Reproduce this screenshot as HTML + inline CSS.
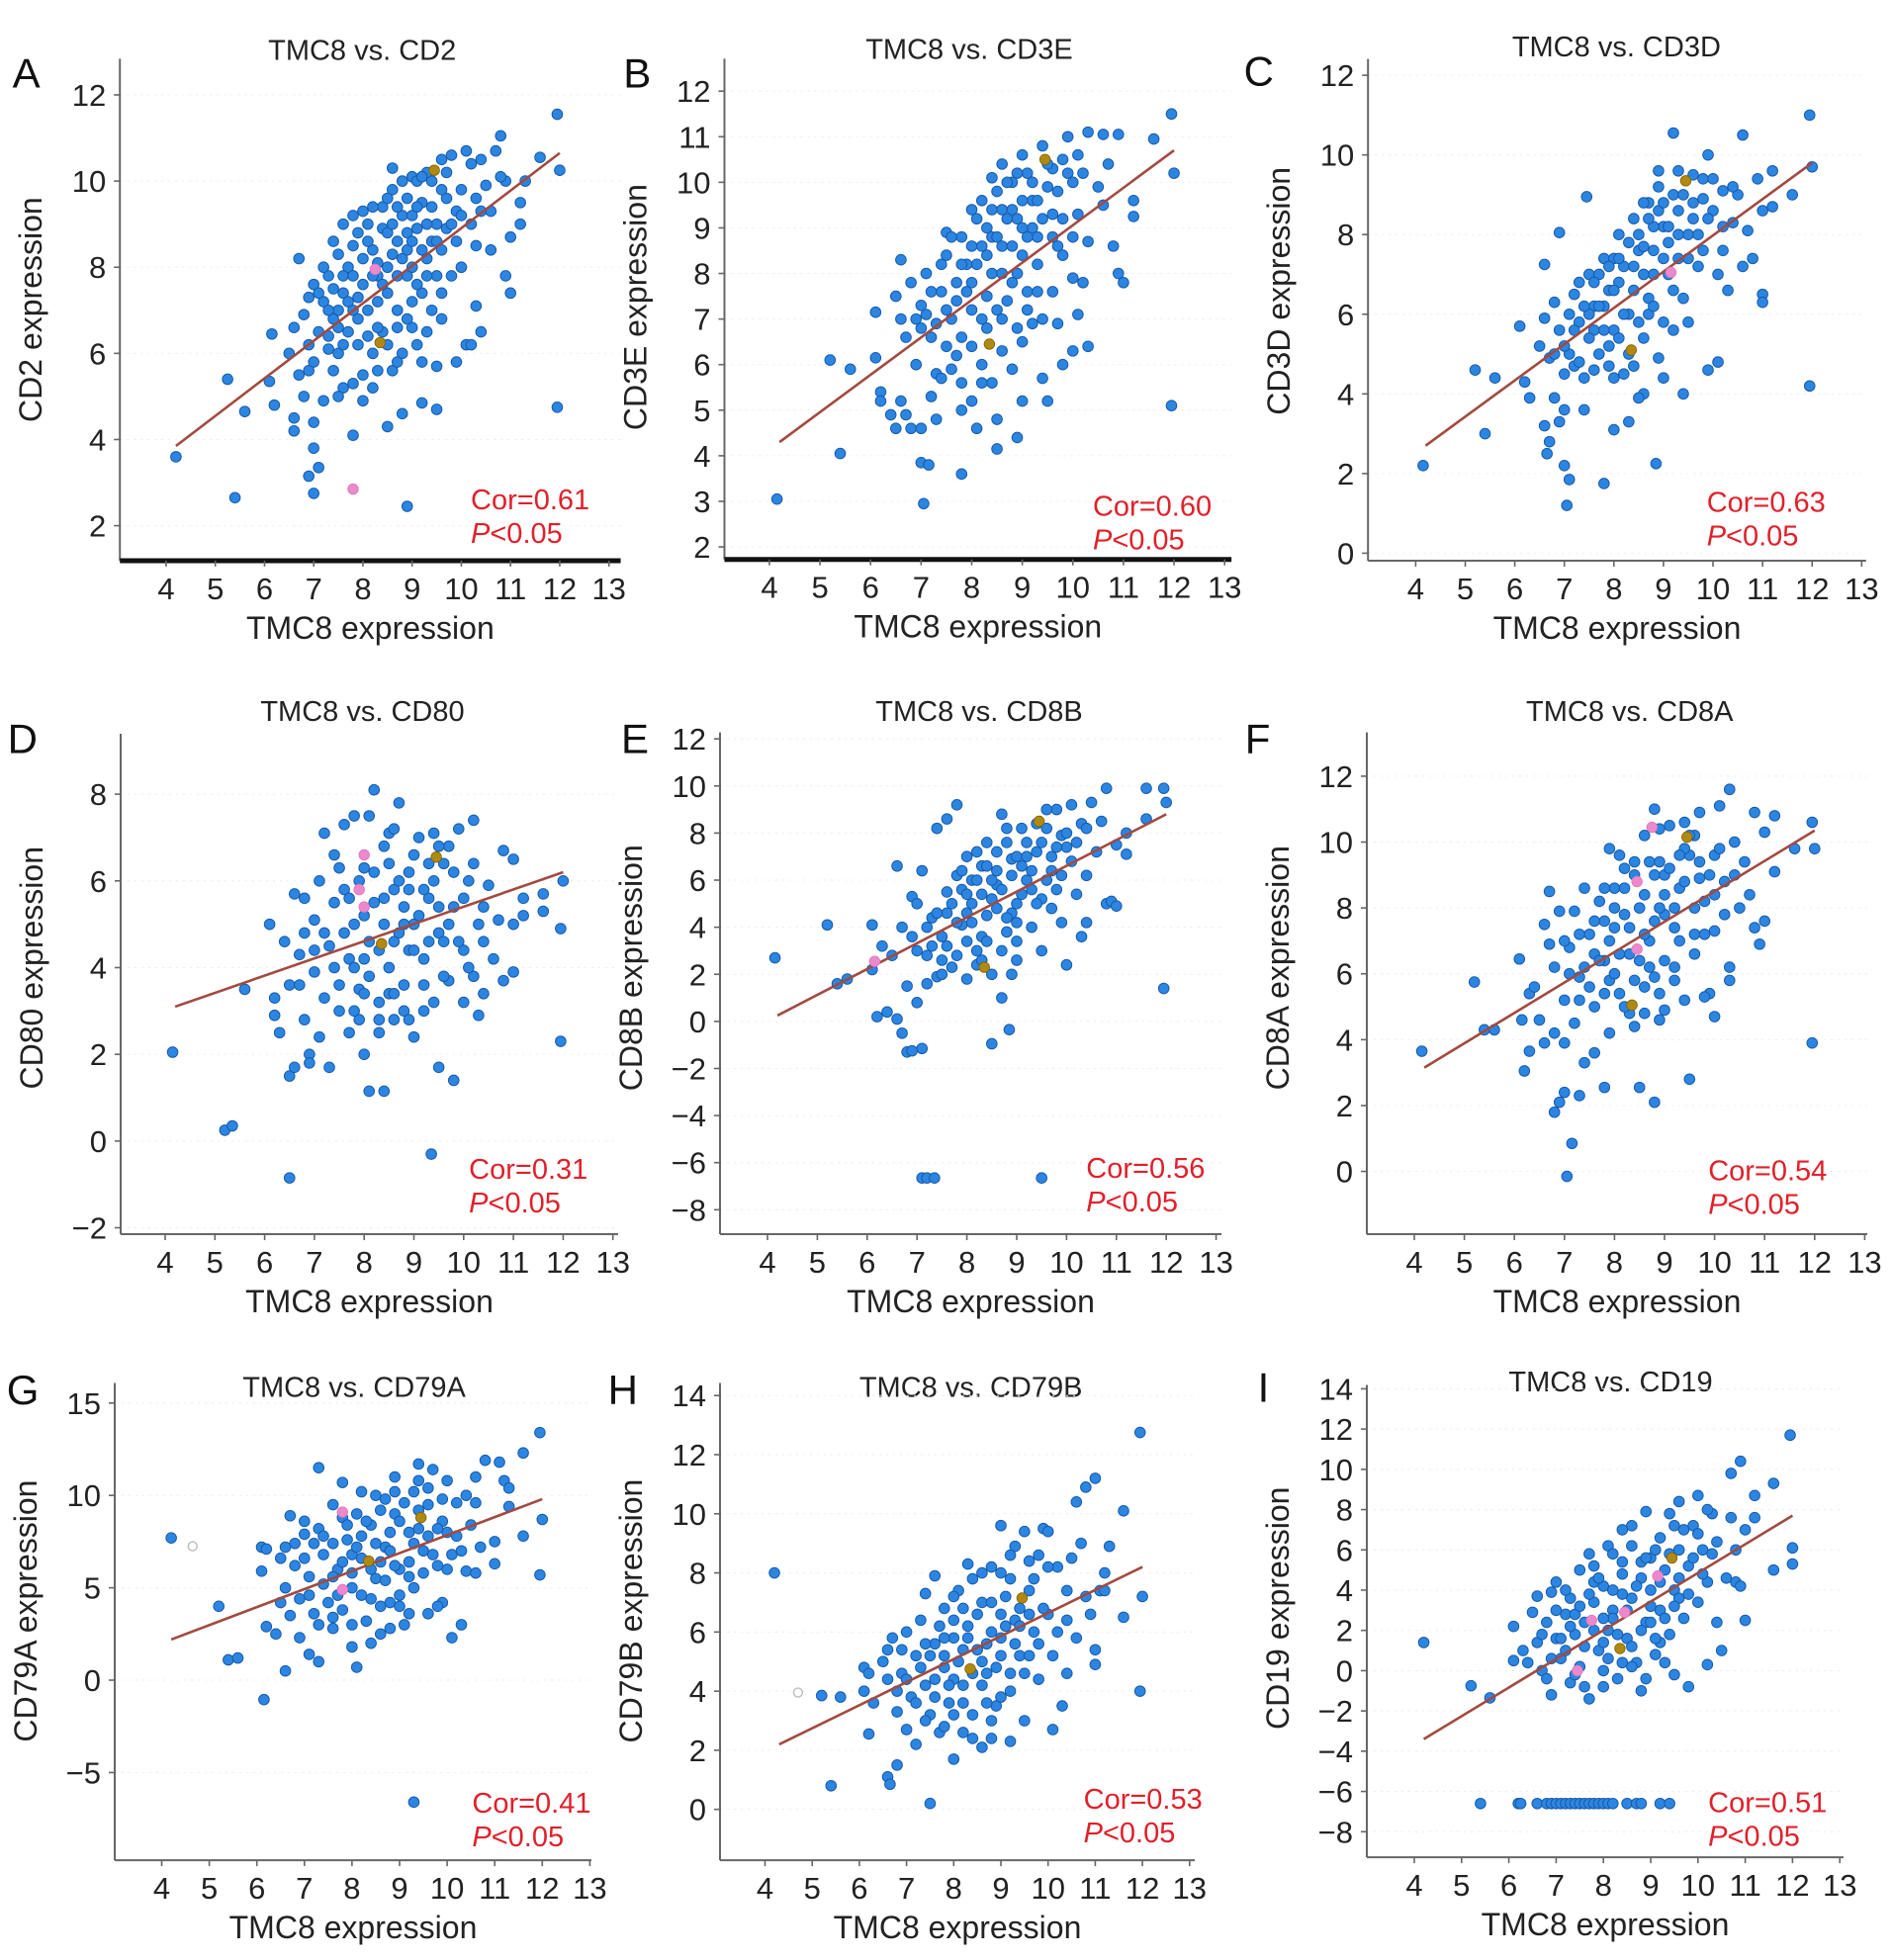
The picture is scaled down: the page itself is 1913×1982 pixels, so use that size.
<!DOCTYPE html>
<html><head><meta charset="utf-8"><title>TMC8 correlations</title>
<style>
html,body{margin:0;padding:0;background:#fff;}
svg{display:block;font-family:"Liberation Sans",Arial,sans-serif;}
</style></head>
<body>
<svg id="fig" width="1913" height="1982" viewBox="0 0 1913 1982" xmlns="http://www.w3.org/2000/svg"></svg>
<script>
// ---------- DATA ----------
const genes = ["CD2","CD3E","CD3D","CD80","CD8B","CD8A","CD79A","CD79B","CD19"];
const corValues = ["0.61","0.60","0.63","0.31","0.56","0.54","0.41","0.53","0.51"];
const yTicksA = [2,4,6,8,10,12];
const yTicksB = [2,3,4,5,6,7,8,9,10,11,12];
const yTicksC = [0,2,4,6,8,10,12];
const yTicksD = [-2,0,2,4,6,8];
const yTicksE = [-8,-6,-4,-2,0,2,4,6,8,10,12];
const yTicksF = [0,2,4,6,8,10,12];
const yTicksG = [-5,0,5,10,15];
const yTicksH = [0,2,4,6,8,10,12,14];
const yTicksI = [-8,-6,-4,-2,0,2,4,6,8,10,12,14];
const xTicks = [4,5,6,7,8,9,10,11,12,13];
const fitA=[4.2,3.85,12,10.65], fitB=[4.2,4.3,12,10.7], fitC=[4.2,2.7,12,9.8];
const fitD=[4.2,3.1,12,6.2], fitE=[4.2,0.25,12,8.8], fitF=[4.2,3.15,12,10.35];
const fitG=[4.2,2.2,12,9.8], fitH=[4.3,2.2,12,8.2], fitI=[4.2,-3.4,12,7.7];

const ptsA=[[4.2,3.6],[5.4,2.65],[5.25,5.4],[5.6,4.65],[6.1,5.35],[6.15,6.45],[6.2,4.8],[6.6,4.5],[6.6,4.2],[6.7,8.2],[6.9,3.15],[7.0,2.75],[7.0,3.8],[7.1,3.35],[7.8,4.1],[8.9,2.45],[11.95,4.75],[11.95,11.55],[12,10.25],[11.6,10.55],[10.8,11.05],[9.5,4.7],[9.2,4.85],
[6.8,6.9],[6.9,7.3],[7.0,7.6],[7.1,6.5],[7.2,7.2],[7.3,7.8],[7.4,6.8],[7.5,8.3],[7.6,7.4],[7.7,8.0],[7.8,7.0],[7.9,8.8],[8.0,7.6],[8.1,9.0],[8.2,8.4],[8.3,7.2],[8.4,9.4],[8.5,8.0],[8.6,9.8],[8.7,8.6],[8.8,9.2],[8.9,7.8],[9.0,10.1],[9.1,8.9],[9.2,9.5],[9.3,8.2],[9.4,10.0],[9.5,9.0],[9.6,8.4],[9.7,9.6],[9.8,10.6],[10.0,9.8],[10.1,10.7],[10.3,9.6],[10.4,10.5],[10.6,9.3],[10.7,10.7],[10.9,10.0],[11.0,8.7],[11.2,9.5],[11.2,9.0],[11.0,7.4],[10.9,7.8],[10.6,8.4],[10.3,8.5],[10.0,8.0],[9.8,7.8],[9.6,6.8],[9.4,7.0],[9.2,7.4],[9.0,6.6],[8.8,6.0],[8.6,5.6],[8.4,6.5],[8.2,6.0],[8.0,5.5],[7.8,5.3],[7.6,5.2],[7.4,5.6],[7.2,4.9],[7.0,4.4],[6.8,5.0],[6.7,5.5],[6.5,6.0],[6.6,6.6],[7.0,5.8],[7.3,6.1],[7.5,6.0],[7.7,6.5],[7.9,6.8],[8.1,7.0],[8.3,7.8],[8.5,7.4],[8.7,7.0],[8.9,8.4],[9.1,7.6],[9.3,6.5],[9.5,7.8],[9.7,8.9],[9.9,9.3],[10.1,6.2],[10.2,6.2],[10.3,7.1],[10.4,6.5],[9.9,5.8],[9.5,5.7],[9.2,5.8],[8.8,4.6],[8.5,4.3],[8.0,4.9],[8.6,10.3],[8.0,9.3],[7.6,9.0],[7.8,8.5],[8.4,8.9],[8.8,10.0],[9.0,9.2],[9.3,10.2],[9.6,10.5],[7.4,7.5],[7.6,7.8],[7.9,7.3],[8.2,7.8],[8.6,8.3],[8.9,8.8],[9.1,9.4],[9.4,8.6],[8.3,6.6],[8.7,6.6],[9.0,7.2],[7.1,7.4],[7.3,6.4],[6.9,6.2],[10.5,9.9],[10.8,10.1],[11.3,10.0],[10.2,9.0],
[7.2,8.0],[7.4,8.6],[7.5,7.0],[7.7,7.2],[7.8,7.8],[8.0,8.2],[8.1,8.6],[8.2,9.4],[8.3,8.1],[8.4,7.6],[8.5,8.8],[8.5,9.6],[8.6,9.0],[8.7,7.8],[8.8,8.2],[8.9,9.6],[9.0,8.0],[9.0,8.6],[9.1,10.0],[9.2,8.4],[9.3,9.0],[9.4,9.4],[9.5,8.6],[9.6,9.8],[9.7,10.2],[9.8,9.0],[9.9,8.6],[10.0,9.2],[10.2,10.4],[10.4,9.3],[7.3,7.0],[7.5,6.6],[7.6,6.2],[7.9,6.2],[8.1,6.4],[8.3,5.6],[8.5,6.2],[8.7,5.8],[8.9,6.8],[9.1,6.2],[9.3,7.8],[9.6,7.4],[7.8,9.2],[8.7,9.4],[9.2,10.1],[8.2,5.2],[7.5,5.0],[6.9,5.6]];
const pinkA=[[8.25,7.95],[7.8,2.85]], goldA=[[9.45,10.25],[8.35,6.25]];

const ptsB=[[4.15,3.05],[5.2,6.1],[5.4,4.05],[5.6,5.9],[6.1,6.15],[6.1,7.15],[7.0,3.85],[7.15,3.8],[7.05,2.95],[7.8,3.6],[8.5,4.15],[11.95,5.1],[11.95,11.5],[12,10.2],[11.6,10.95],[11.2,9.6],[11.2,9.25],[10.9,11.05],[6.6,8.3],
[6.2,5.4],[6.2,5.2],[6.4,4.9],[6.5,4.6],[6.6,5.2],[6.7,4.9],[6.8,4.6],[6.5,7.5],[6.6,7.0],[6.7,6.6],[6.8,7.8],[6.9,6.0],[7.0,7.3],[7.1,8.0],[7.2,6.6],[7.3,5.8],[7.4,7.6],[7.5,8.4],[7.6,7.0],[7.7,6.2],[7.8,8.8],[7.9,7.6],[8.0,9.4],[8.1,8.2],[8.2,7.0],[8.3,9.0],[8.4,8.0],[8.5,9.8],[8.6,8.6],[8.7,7.4],[8.8,10.0],[8.9,9.2],[9.0,8.4],[9.1,10.2],[9.2,9.6],[9.3,8.8],[9.4,10.8],[9.5,9.9],[9.6,9.3],[9.7,8.6],[9.8,10.5],[9.9,11.0],[10.0,10.0],[10.1,9.3],[10.2,10.2],[10.3,11.1],[10.5,9.9],[10.6,11.05],[10.7,10.4],[10.8,8.6],[10.9,8.0],[11.0,7.8],[10.6,9.5],[10.3,8.7],[10.2,7.8],[10.0,7.9],[9.8,8.4],[9.6,7.6],[9.4,7.0],[9.2,6.9],[9.0,6.5],[8.8,5.9],[8.6,6.3],[8.4,5.6],[8.2,6.0],[8.0,5.2],[7.8,5.6],[7.6,5.9],[7.4,5.7],[7.2,5.3],[7.0,4.6],[7.3,4.8],[7.8,5.0],[8.1,4.6],[8.5,4.8],[8.9,4.4],[9.0,5.2],[9.5,5.2],[9.4,5.7],[9.8,6.0],[10.0,6.3],[10.3,6.4],[10.1,7.1],[9.7,6.9],[8.0,7.2],[8.3,7.5],[8.6,8.0],[8.9,8.0],[9.1,8.8],[9.3,9.6],[8.7,9.2],[8.2,8.6],[7.7,7.8],[7.5,7.2],[7.9,8.2],[8.4,8.8],[8.8,8.6],[9.2,9.0],[9.6,10.3],[8.6,10.4],[7.5,8.9],
[7.4,8.2],[7.6,8.8],[7.7,7.4],[7.8,8.2],[8.0,8.6],[8.0,7.8],[8.1,9.2],[8.2,9.6],[8.3,8.4],[8.4,9.4],[8.5,8.8],[8.5,7.2],[8.6,9.4],[8.7,10.0],[8.8,9.4],[8.8,7.8],[8.9,10.2],[9.0,9.0],[9.0,9.6],[9.1,7.6],[9.2,10.0],[9.3,8.2],[9.4,9.2],[9.5,10.4],[9.6,8.8],[9.7,9.8],[9.8,9.2],[9.9,10.2],[10.0,8.8],[10.1,10.6],[7.2,7.6],[7.3,6.9],[7.5,6.4],[7.8,6.6],[8.0,6.4],[8.3,6.8],[8.6,7.0],[8.9,6.8],[9.1,7.2],[9.3,7.6],[7.0,6.8],[6.9,7.0],[7.1,7.1],[8.4,10.1],[9.0,10.6],[8.2,5.6]];
const pinkB=[], goldB=[[9.45,10.5],[8.35,6.45]];

const ptsC=[[4.15,2.2],[5.2,4.6],[5.4,3.0],[5.6,4.4],[6.1,5.7],[6.2,4.3],[6.3,3.9],[6.6,7.25],[6.9,8.05],[7.05,1.2],[7.1,1.85],[7.0,2.2],[7.8,1.75],[8.85,2.25],[11.95,11.0],[12,9.7],[11.95,4.2],[10.6,10.5],[9.2,10.55],[7.45,8.95],[11.6,9.0],
[6.5,5.2],[6.6,5.9],[6.7,4.9],[6.8,6.3],[6.9,5.6],[6.6,3.2],[6.7,2.8],[6.65,2.5],[6.8,3.9],[6.9,3.3],[7.0,3.6],[7.0,4.5],[7.1,5.0],[7.2,6.5],[7.3,5.8],[7.4,3.6],[7.4,4.4],[7.5,7.0],[7.6,6.2],[7.7,5.0],[7.8,7.4],[7.9,6.6],[8.0,5.6],[8.1,8.0],[8.2,7.2],[8.3,6.0],[8.4,8.4],[8.5,7.6],[8.6,5.4],[8.7,8.8],[8.8,7.0],[8.9,9.6],[9.0,8.2],[9.1,7.8],[9.2,9.0],[9.3,8.6],[9.4,6.4],[9.5,8.0],[9.6,9.5],[9.7,7.2],[9.8,9.4],[9.9,10.0],[10.0,8.6],[10.1,7.0],[10.2,9.1],[10.3,6.6],[10.4,8.3],[10.5,9.0],[10.6,7.2],[10.7,8.1],[10.8,7.4],[10.9,9.4],[11.0,6.5],[11.0,6.3],[11.2,8.7],[11.2,9.6],[11.0,8.6],[9.5,5.8],[9.2,5.6],[9.0,4.4],[8.9,4.9],[8.6,4.0],[8.5,3.9],[8.3,3.3],[8.0,3.1],[8.2,4.5],[8.4,4.7],[7.9,4.7],[7.6,5.6],[7.3,6.8],[7.5,6.0],[7.8,6.2],[8.1,6.8],[8.4,7.2],[8.6,7.7],[8.8,8.2],[9.1,7.0],[9.3,7.4],[9.6,8.4],[9.8,8.9],[10.2,8.2],[8.7,6.4],[8.0,7.4],[7.7,7.0],[7.2,4.7],[9.4,4.0],[9.9,4.6],[10.1,4.8],[8.9,9.2],[9.3,9.6],
[7.2,5.6],[7.4,6.2],[7.5,5.4],[7.6,6.8],[7.7,6.2],[7.8,5.6],[7.9,7.2],[8.0,6.6],[8.1,7.4],[8.2,6.0],[8.3,7.8],[8.4,6.6],[8.5,8.0],[8.6,7.0],[8.7,8.4],[8.7,6.0],[8.8,7.6],[8.9,8.6],[9.0,7.4],[9.0,8.8],[9.1,8.2],[9.2,6.6],[9.3,8.0],[9.4,9.0],[9.5,7.4],[9.6,8.8],[9.7,8.0],[9.8,7.6],[9.9,8.4],[10.0,9.4],[10.2,7.6],[10.4,9.2],[7.0,5.2],[7.3,4.8],[7.6,4.6],[7.9,5.2],[8.1,5.4],[8.3,5.0],[8.5,5.8],[8.8,6.2],[9.0,5.8],[8.0,4.4],[7.1,6.0],[6.8,5.0],[8.6,8.8]];
const pinkC=[[9.15,7.05]], goldC=[[9.45,9.35],[8.35,5.1]];

const ptsD=[[4.15,2.05],[5.2,0.25],[5.35,0.35],[5.6,3.5],[6.5,-0.85],[9.35,-0.3],[11.95,2.3],[11.95,4.9],[12,6.0],[9.8,1.4],[8.1,1.15],[8.4,1.15],[6.5,1.5],[8.2,8.1],
[6.1,5.0],[6.2,2.9],[6.2,3.3],[6.3,2.5],[6.4,4.6],[6.5,3.6],[6.6,5.7],[6.6,1.7],[6.7,4.3],[6.8,5.6],[6.8,2.8],[6.9,2.0],[7.0,3.9],[7.0,5.1],[7.1,2.4],[7.1,6.0],[7.2,7.1],[7.2,3.3],[7.3,4.5],[7.4,5.5],[7.5,3.0],[7.5,6.3],[7.6,7.3],[7.7,4.2],[7.7,2.5],[7.8,5.0],[7.8,7.5],[7.9,3.5],[8.0,6.3],[8.0,2.0],[8.1,4.6],[8.1,7.5],[8.2,5.5],[8.3,3.2],[8.4,6.8],[8.5,4.0],[8.5,7.1],[8.6,5.8],[8.6,2.8],[8.7,7.8],[8.7,4.8],[8.8,3.6],[8.9,6.2],[9.0,5.0],[9.0,2.4],[9.1,7.0],[9.2,4.2],[9.3,5.6],[9.4,3.2],[9.4,7.1],[9.5,1.7],[9.5,4.8],[9.6,6.4],[9.7,3.7],[9.8,5.4],[9.9,7.2],[10.0,4.4],[10.0,3.2],[10.1,6.0],[10.2,7.4],[10.3,5.0],[10.3,2.9],[10.4,3.4],[10.5,5.9],[10.6,4.2],[10.7,5.1],[10.8,6.7],[10.8,3.7],[11.0,6.5],[11.0,3.9],[11.0,5.0],[11.2,5.6],[11.2,5.2],[11.6,5.7],[11.6,5.3],[10.2,3.8],[9.2,3.0],[8.3,2.5],[7.9,2.8],[7.3,1.7],[6.9,1.8],[7.6,5.8],[8.4,5.0],[8.9,4.4],[9.6,4.6],[8.0,4.2],[8.8,5.4],[9.3,6.4],[7.4,4.0],[10.4,5.4],[9.7,6.8],
[7.6,4.8],[7.7,5.6],[7.8,4.0],[7.9,6.0],[8.0,5.2],[8.1,3.8],[8.2,6.2],[8.3,4.4],[8.4,5.6],[8.5,6.4],[8.5,3.4],[8.6,4.6],[8.7,6.0],[8.8,5.0],[8.8,3.0],[8.9,5.8],[9.0,4.4],[9.0,6.6],[9.1,5.2],[9.2,3.6],[9.2,5.8],[9.3,4.6],[9.4,6.0],[9.5,5.4],[9.6,3.8],[9.7,5.0],[9.8,6.2],[9.9,4.6],[10.0,5.6],[10.1,4.0],[10.2,6.4],[10.4,4.6],[7.4,6.6],[7.5,3.6],[7.2,4.8],[7.0,4.4],[6.8,4.8],[6.7,3.6],[7.8,3.0],[8.3,2.8],[8.6,3.4],[8.9,2.8],[9.5,6.8],[8.6,7.2],[8.0,3.4]];
const pinkD=[[8.0,6.6],[7.9,5.8],[8.0,5.4]], goldD=[[9.45,6.55],[8.35,4.55]];

const ptsE=[[4.15,2.7],[5.2,4.1],[5.4,1.6],[5.6,1.8],[6.1,4.1],[6.1,2.2],[6.2,0.2],[7.1,-6.65],[7.2,-6.65],[7.35,-6.65],[9.5,-6.65],[11.95,1.4],[11.95,9.9],[12,9.3],[11.6,9.9],[11.6,8.6],[6.8,-1.3],[6.9,-1.25],[7.1,-1.15],[8.5,-0.95],[8.85,-0.35],[11.2,7.1],[10.8,9.9],
[6.3,3.2],[6.4,0.4],[6.5,2.8],[6.6,0.1],[6.6,6.6],[6.7,-0.5],[6.7,4.0],[6.8,1.5],[6.9,5.3],[7.0,0.8],[7.0,3.0],[7.1,6.4],[7.2,1.6],[7.3,4.4],[7.4,8.2],[7.4,1.9],[7.5,3.6],[7.6,5.5],[7.6,8.6],[7.7,2.3],[7.8,6.2],[7.8,9.2],[7.9,4.1],[8.0,1.8],[8.0,7.0],[8.1,5.0],[8.2,3.0],[8.3,6.6],[8.4,4.5],[8.4,7.6],[8.5,2.0],[8.6,5.8],[8.7,8.8],[8.7,1.0],[8.8,3.8],[8.9,6.9],[9.0,5.0],[9.0,2.6],[9.1,8.2],[9.2,6.0],[9.3,4.0],[9.4,7.2],[9.5,5.2],[9.5,3.0],[9.6,8.2],[9.7,6.4],[9.8,9.0],[9.9,4.2],[10.0,7.4],[10.0,2.4],[10.1,9.2],[10.2,5.4],[10.3,8.4],[10.3,3.6],[10.4,6.2],[10.5,9.3],[10.6,7.2],[10.7,8.5],[10.8,5.0],[10.9,5.1],[11.0,4.9],[11.0,7.5],[11.2,8.0],[10.4,4.2],[9.8,5.6],[9.2,7.6],[8.6,6.4],[8.0,4.6],[7.6,3.2],[7.2,2.8],[8.3,3.6],[8.9,4.6],[9.3,5.6],[9.7,7.0],[8.1,6.0],[7.9,5.6],[8.5,5.2],[8.8,7.6],[9.1,6.6],[8.2,2.4],[7.5,2.0],[8.9,2.0],[9.4,8.4],[9.9,7.9],
[7.6,4.6],[7.7,5.0],[7.8,4.2],[7.9,6.4],[8.0,5.4],[8.1,4.2],[8.2,6.0],[8.3,5.4],[8.4,3.4],[8.5,6.0],[8.6,4.8],[8.6,7.2],[8.7,5.6],[8.8,4.4],[8.9,6.2],[9.0,7.0],[9.0,4.2],[9.1,5.4],[9.2,7.0],[9.3,6.4],[9.4,5.0],[9.5,7.6],[9.6,6.0],[9.7,4.8],[9.8,7.4],[9.9,6.2],[10.0,8.0],[10.1,6.8],[10.2,7.6],[10.4,8.2],[7.4,4.6],[7.3,3.2],[7.5,2.6],[7.8,2.8],[8.0,3.4],[8.3,2.6],[8.7,3.0],[9.0,3.4],[7.2,4.0],[7.0,5.0],[6.9,3.6],[8.2,7.2],[8.8,8.2],[9.6,9.0],[8.4,6.6]];
const pinkE=[[6.15,2.55]], goldE=[[9.45,8.5],[8.35,2.3]];

const ptsF=[[4.15,3.65],[5.2,5.75],[5.4,4.3],[5.6,4.3],[6.1,6.45],[6.15,4.6],[6.2,3.05],[6.3,3.65],[6.8,1.8],[6.9,2.1],[7.05,-0.15],[7.15,0.85],[7.0,2.4],[7.3,2.3],[7.8,2.55],[8.5,2.55],[8.8,2.1],[9.5,2.8],[11.95,3.9],[11.95,10.6],[12,9.8],[10.3,11.6],[11.6,9.8],
[6.3,5.4],[6.4,5.6],[6.5,4.6],[6.6,3.9],[6.6,7.5],[6.7,6.9],[6.7,8.5],[6.8,6.2],[6.8,4.2],[6.9,7.9],[7.0,5.2],[7.0,3.9],[7.1,6.8],[7.2,7.9],[7.2,4.5],[7.3,5.9],[7.4,8.6],[7.4,3.3],[7.5,7.2],[7.6,5.0],[7.6,3.6],[7.7,8.2],[7.8,6.4],[7.9,4.2],[7.9,9.8],[8.0,7.4],[8.1,5.4],[8.2,9.2],[8.3,6.6],[8.4,4.4],[8.5,8.0],[8.6,10.2],[8.6,5.6],[8.7,7.0],[8.8,11.0],[8.8,9.0],[8.9,4.6],[9.0,7.8],[9.1,10.5],[9.2,6.2],[9.3,8.6],[9.4,5.2],[9.5,9.6],[9.6,7.2],[9.7,10.9],[9.8,8.2],[9.9,5.4],[10.0,9.6],[10.0,7.3],[10.1,11.1],[10.2,8.8],[10.3,6.2],[10.4,10.0],[10.5,8.0],[10.6,9.4],[10.7,8.4],[10.8,7.4],[10.9,6.9],[11.0,10.3],[11.0,7.6],[11.2,9.1],[11.2,10.8],[10.8,10.9],[10.3,5.8],[10.0,4.7],[9.8,5.3],[9.6,6.6],[9.0,4.9],[8.8,5.9],[8.3,4.8],[7.9,5.8],[7.6,6.6],[7.3,7.2],[8.2,7.8],[8.6,7.2],[9.0,9.0],[9.4,9.8],[9.7,8.9],[8.4,9.4],[8.0,8.6],[8.9,8.0],[9.2,7.4],[7.8,7.6],[9.6,10.2],
[7.6,7.6],[7.7,6.4],[7.8,8.6],[7.9,7.0],[8.0,8.0],[8.1,6.6],[8.2,8.6],[8.3,7.4],[8.4,9.0],[8.5,6.4],[8.6,8.4],[8.7,9.4],[8.7,6.2],[8.8,7.6],[8.9,9.4],[9.0,8.4],[9.0,6.4],[9.1,9.2],[9.2,8.0],[9.3,9.6],[9.3,7.0],[9.4,8.8],[9.5,10.2],[9.6,8.0],[9.7,9.4],[9.8,7.2],[9.9,9.0],[10.0,8.4],[10.1,9.8],[10.2,7.8],[10.4,9.0],[7.4,6.2],[7.3,5.2],[7.5,5.6],[7.8,5.4],[8.0,6.0],[8.2,5.0],[8.4,5.8],[8.6,4.8],[8.9,5.4],[9.2,5.8],[7.1,6.0],[7.0,7.0],[8.1,9.6],[8.9,10.4],[9.4,10.6]];
const pinkF=[[8.75,10.45],[8.45,8.8],[8.45,6.75]], goldF=[[9.45,10.15],[8.35,5.05]];

const ptsG=[[4.2,7.7],[5.2,4.0],[5.4,1.1],[5.6,1.2],[6.15,-1.05],[6.6,0.5],[9.3,-6.6],[11.95,13.4],[11.6,12.3],[12,8.7],[11.95,5.7],[11.6,7.8],[7.3,11.5],
[6.1,7.2],[6.2,7.1],[6.1,5.9],[6.2,2.9],[6.4,2.5],[6.5,6.6],[6.6,5.0],[6.7,3.5],[6.7,8.9],[6.8,6.2],[6.9,2.3],[6.9,4.4],[7.0,7.9],[7.1,5.6],[7.1,1.4],[7.2,3.6],[7.3,8.2],[7.3,1.0],[7.4,6.8],[7.5,4.2],[7.6,9.5],[7.6,2.8],[7.7,6.0],[7.8,10.7],[7.8,3.8],[7.9,7.6],[8.0,5.0],[8.0,1.8],[8.1,9.0],[8.1,0.7],[8.2,6.6],[8.3,3.2],[8.4,8.4],[8.5,5.5],[8.5,10.0],[8.6,2.5],[8.7,7.2],[8.8,4.2],[8.9,11.0],[8.9,9.0],[9.0,6.0],[9.1,3.0],[9.2,8.0],[9.3,10.2],[9.3,5.0],[9.4,11.7],[9.5,7.0],[9.6,3.6],[9.6,9.5],[9.7,11.4],[9.8,6.2],[9.9,4.2],[9.9,8.6],[10.0,10.8],[10.1,2.3],[10.1,6.8],[10.2,9.6],[10.3,3.0],[10.4,5.9],[10.5,8.4],[10.6,11.0],[10.7,7.2],[10.8,11.9],[11.0,6.3],[11.0,7.5],[11.1,11.8],[11.2,10.8],[11.3,9.4],[11.3,10.4],[10.6,5.8],[10.3,7.0],[9.8,4.0],[9.0,4.6],[8.6,6.4],[8.2,7.8],[7.8,8.8],[7.4,5.2],[7.0,6.6],[7.6,5.6],[8.4,4.4],[8.8,8.0],[9.2,6.4],[9.6,7.8],[10.0,8.0],[8.0,6.8],[8.7,9.8],[9.4,9.2],[7.2,7.4],
[7.6,7.4],[7.7,4.6],[7.8,6.4],[7.9,8.4],[8.0,5.8],[8.1,7.2],[8.2,4.6],[8.3,8.6],[8.4,6.0],[8.5,7.4],[8.6,9.2],[8.6,4.0],[8.7,5.4],[8.8,7.0],[8.9,6.2],[9.0,8.6],[9.0,4.0],[9.1,9.6],[9.2,5.6],[9.3,7.4],[9.4,8.2],[9.5,5.8],[9.6,10.4],[9.7,6.8],[9.8,8.2],[9.9,9.8],[10.0,6.0],[10.2,7.8],[10.4,10.0],[7.4,7.8],[7.3,3.0],[7.1,4.6],[7.0,8.6],[7.6,3.4],[8.0,3.0],[8.4,2.0],[8.8,2.8],[9.2,3.6],[6.8,7.4],[6.5,4.2],[6.6,7.2],[8.2,10.2],[8.9,10.2],[9.4,10.8],[10.6,9.6]];
const openG=[[4.65,7.25]], pinkG=[[7.8,9.1],[7.8,4.9]], goldG=[[9.45,8.8],[8.35,6.45]];

const ptsH=[[4.2,8.0],[5.2,3.85],[5.4,0.8],[5.6,3.8],[6.2,2.55],[6.6,1.1],[6.65,0.85],[7.5,0.2],[11.95,12.75],[12,7.2],[11.95,4.0],[11.6,10.1],[11.6,6.5],[11.0,11.2],[10.8,10.9],[10.6,10.4],
[6.1,4.8],[6.2,4.6],[6.1,4.0],[6.3,3.6],[6.5,5.0],[6.6,4.4],[6.7,5.8],[6.8,3.3],[6.8,1.5],[6.9,4.6],[7.0,6.0],[7.0,2.7],[7.1,3.8],[7.2,5.2],[7.2,2.2],[7.3,6.4],[7.4,4.2],[7.4,7.3],[7.5,3.2],[7.6,5.6],[7.6,7.9],[7.7,2.6],[7.8,4.8],[7.8,6.8],[7.9,3.6],[8.0,5.8],[8.0,1.7],[8.1,7.4],[8.2,4.2],[8.3,6.2],[8.3,8.3],[8.4,3.2],[8.5,5.4],[8.6,7.0],[8.6,2.1],[8.7,4.6],[8.8,8.2],[8.8,6.0],[8.9,3.5],[9.0,5.2],[9.0,9.6],[9.1,7.2],[9.2,4.0],[9.3,6.4],[9.3,8.9],[9.4,5.2],[9.5,9.4],[9.5,3.0],[9.6,7.4],[9.7,6.0],[9.8,8.6],[9.8,4.4],[9.9,9.5],[10.0,6.6],[10.1,5.2],[10.1,2.7],[10.2,8.2],[10.3,3.5],[10.4,6.4],[10.4,4.6],[10.5,8.5],[10.6,5.8],[10.7,9.0],[10.8,7.2],[10.9,6.6],[11.0,4.9],[11.0,5.4],[11.1,7.4],[11.2,8.0],[11.3,8.9],[11.2,7.4],[10.0,9.4],[9.6,8.4],[9.0,8.0],[8.4,7.8],[7.8,5.8],[8.2,5.4],[8.6,5.0],[9.0,6.6],[9.4,6.8],[8.0,4.4],[7.4,5.6],[7.0,4.4],[9.6,5.2],[8.8,3.0],[9.2,2.3],[8.2,2.6],
[7.3,4.8],[7.5,5.2],[7.6,4.4],[7.7,6.2],[7.8,5.2],[7.9,4.2],[8.0,6.4],[8.1,5.0],[8.2,3.6],[8.3,5.8],[8.4,4.6],[8.5,6.6],[8.6,4.2],[8.7,5.6],[8.8,7.0],[8.9,4.8],[9.0,5.8],[9.1,6.2],[9.2,4.6],[9.2,7.8],[9.3,5.6],[9.4,6.2],[9.5,4.6],[9.6,6.6],[9.7,7.8],[9.8,5.6],[9.9,6.8],[10.0,8.2],[10.2,6.0],[10.4,7.4],[7.2,3.6],[7.4,3.0],[7.6,3.8],[7.8,2.8],[8.0,3.2],[8.4,2.4],[8.7,3.6],[9.0,3.8],[6.9,5.4],[6.8,4.0],[6.6,5.4],[8.0,7.2],[8.6,8.0],[9.2,8.6],[8.2,6.8],[8.8,2.4]];
const openH=[[4.7,3.95]], pinkH=[], goldH=[[9.45,7.15],[8.35,4.75]];

const ptsI=[[4.2,1.4],[5.2,-0.75],[5.6,-1.35],[11.95,11.7],[12,6.1],[12,5.3],[11.6,9.3],[11.6,5.0],[11.2,8.7],[10.9,10.4],[10.7,9.8],
[5.4,-6.6],[6.2,-6.6],[6.25,-6.6],[6.6,-6.6],[6.8,-6.6],[6.9,-6.6],[7.0,-6.6],[7.1,-6.6],[7.2,-6.6],[7.3,-6.6],[7.4,-6.6],[7.5,-6.6],[7.6,-6.6],[7.7,-6.6],[7.8,-6.6],[7.9,-6.6],[8.0,-6.6],[8.1,-6.6],[8.2,-6.6],[8.5,-6.6],[8.7,-6.6],[8.8,-6.6],[9.2,-6.6],[9.4,-6.6],
[6.1,0.5],[6.1,2.2],[6.3,1.0],[6.4,0.4],[6.5,2.9],[6.6,3.7],[6.6,1.4],[6.7,0.0],[6.8,-0.4],[6.8,2.4],[6.9,3.9],[6.9,-1.2],[7.0,1.6],[7.0,4.4],[7.1,0.6],[7.2,2.8],[7.3,-0.6],[7.3,3.6],[7.4,1.8],[7.5,5.0],[7.5,0.2],[7.6,2.4],[7.7,5.8],[7.7,-1.4],[7.8,3.4],[7.9,1.0],[8.0,4.2],[8.0,-0.8],[8.1,6.2],[8.1,2.0],[8.2,3.0],[8.3,-0.4],[8.4,4.8],[8.4,7.0],[8.5,1.6],[8.6,3.6],[8.6,6.2],[8.7,0.4],[8.8,-1.0],[8.8,5.4],[8.9,7.9],[8.9,2.4],[9.0,4.0],[9.1,0.8],[9.2,6.6],[9.2,3.0],[9.3,5.0],[9.4,7.8],[9.4,1.8],[9.5,-0.2],[9.5,4.0],[9.6,6.0],[9.6,8.4],[9.7,2.6],[9.8,-0.8],[9.8,5.2],[9.9,7.2],[10.0,3.4],[10.0,8.7],[10.1,6.0],[10.2,0.3],[10.2,4.4],[10.3,7.8],[10.4,2.4],[10.4,6.4],[10.5,1.0],[10.6,4.6],[10.7,7.6],[10.8,6.0],[10.8,4.4],[10.9,4.2],[11.0,2.5],[11.0,7.0],[11.2,7.6],[9.0,2.4],[8.2,2.6],[7.4,2.8],[8.6,1.2],[9.2,1.4],[8.0,1.4],[8.4,3.8],[9.0,5.6],[7.8,4.4],[8.8,4.6],[9.6,3.6],[7.2,1.0],
[7.3,2.2],[7.5,3.2],[7.6,1.2],[7.7,3.8],[7.8,2.0],[7.9,4.6],[8.0,2.6],[8.1,0.6],[8.2,4.0],[8.3,1.8],[8.4,5.4],[8.5,3.0],[8.6,0.2],[8.7,4.2],[8.8,2.0],[8.9,5.6],[9.0,3.2],[9.1,6.0],[9.1,1.6],[9.2,4.4],[9.3,2.6],[9.4,5.8],[9.5,3.2],[9.6,4.6],[9.7,7.0],[9.8,3.8],[9.9,5.6],[10.0,6.8],[10.1,4.8],[10.3,5.8],[7.1,1.6],[7.0,3.0],[6.9,0.6],[7.4,-0.2],[7.6,-0.8],[8.0,0.0],[8.4,0.4],[8.9,-0.4],[9.3,0.4],[7.2,4.0],[7.8,5.2],[8.2,5.8],[8.6,7.2],[9.5,7.2],[10.2,8.0],[6.7,1.8]];
const pinkI=[[7.75,2.5],[7.45,0.0],[8.45,2.9],[9.15,4.7]], goldI=[[9.45,5.6],[8.35,1.1]];

// ---------- LAYOUT (pixel geometry; ox/oy/k map crop space to page px; fx* = measured page-px x-axis overrides) ----------
const layoutRaw = [
 {L:"A",ox:0,oy:0,k:1.2627, ax:96, top:47, bot:449, right:497, x4:133, xu:39.4, yv:12, ypx:76, yu:34.5, thick:true,  lx:10, ly:70, tx:290, ty:48, cx:377, cy:408, ytitleY:248},
 {L:"B",ox:610,oy:0,k:1.2627, ax:707,top:47, bot:448, right:1113,x4:743, xu:40.5, yv:12, ypx:73, yu:36.5, thick:true,  lx:626,ly:70, tx:903, ty:47, cx:1002,cy:413, ytitleY:246, fax:726, fx4:772, fxu:50.4, fright:1235},
 {L:"C",ox:1250,oy:0,k:1.2685, ax:1355,top:47,bot:447, right:1752,x4:1393,xu:39.5, yv:12, ypx:60, yu:31.75,thick:false, lx:1256,ly:68, tx:1553,ty:45, cx:1625,cy:408, ytitleY:232},
 {L:"D",ox:0,oy:660,k:1.301, ax:98, top:723,bot:1112,right:508, x4:137, xu:41.1, yv:8,  ypx:770,yu:33.7, thick:false, lx:8, ly:738,tx:300, ty:713,cx:388, cy:1069,ytitleY:905, fax:122, fx4:167, fxu:50.3, fright:625},
 {L:"E",ox:610,oy:660,k:1.301, ax:705,top:722,bot:1112,right:1110,x4:743, xu:40.5, yv:12, ypx:727,yu:18.3, thick:false, lx:626,ly:738,tx:915, ty:713,cx:1002,cy:1068,ytitleY:905, fax:728, fx4:776, fxu:50.4, fright:1235},
 {L:"F",ox:1250,oy:660,k:1.301, ax:1354,top:722,bot:1112,right:1752,x4:1393,xu:39.5,yv:12, ypx:756,yu:25.6, thick:false, lx:1258,ly:738,tx:1563,ty:713,cx:1625,cy:1070,ytitleY:905, fax:1382, fx4:1430, fxu:50.6, fright:1888},
 {L:"G",ox:0,oy:1320,k:1.2666, ax:97, top:1382,bot:1763,right:503,x4:137, xu:40.3, yv:15, ypx:1398,yu:14.75,thick:false, lx:8, ly:1399,tx:300, ty:1393,cx:400, cy:1725,ytitleY:1564, fax:116, fx4:163.5, fxu:48.1, fright:598},
 {L:"H",ox:600,oy:1320,k:1.2666, ax:702,top:1382,bot:1763,right:1088,x4:739,xu:38.5, yv:14, ypx:1392,yu:23.6, thick:false, lx:612,ly:1399,tx:907, ty:1393,cx:999, cy:1722,ytitleY:1564, fax:728, fx4:773.5, fxu:47.7, fright:1208},
 {L:"I",ox:1250,oy:1300,k:1.305, ax:1354,top:1377,bot:1743,right:1733,x4:1390,xu:37.8,yv:14, ypx:1380,yu:15.6, thick:false, lx:1268,ly:1390,tx:1547,ty:1382,cx:1625,cy:1708,ytitleY:1550, fax:1382, fx4:1430, fxu:47.8, fright:1864}
];
const layout = layoutRaw.map(r=>{
  const p=Object.assign({},r), k=r.k;
  ["ax","right","x4","lx","tx","cx"].forEach(f=>p[f]=r.ox+(r[f]-r.ox)*k);
  ["top","bot","ypx","ly","ty","cy","ytitleY"].forEach(f=>p[f]=r.oy+(r[f]-r.oy)*k);
  p.xu=r.xu*k; p.yu=r.yu*k;
  if(r.fx4!==undefined && r.L!=="B"){
    const s=r.fxu/p.xu;
    const mapX=v=>r.fx4+(v-p.x4)*s;
    p.tx=mapX(p.tx); p.cx=mapX(p.cx);
    p.lx=p.lx+(r.fax-p.ax)*0.5;
    p.ax=r.fax; p.right=r.fright; p.x4=r.fx4; p.xu=r.fxu;
  }
  return p;
});
const yTickSets=[yTicksA,yTicksB,yTicksC,yTicksD,yTicksE,yTicksF,yTicksG,yTicksH,yTicksI];
const fits=[fitA,fitB,fitC,fitD,fitE,fitF,fitG,fitH,fitI];
const pts=[ptsA,ptsB,ptsC,ptsD,ptsE,ptsF,ptsG,ptsH,ptsI];
const pinks=[pinkA,pinkB,pinkC,pinkD,pinkE,pinkF,pinkG,pinkH,pinkI];
const golds=[goldA,goldB,goldC,goldD,goldE,goldF,goldG,goldH,goldI];
const opens=[[],[],[],[],[],[],openG,openH,[]];

// ---------- RENDER ----------
const NS="http://www.w3.org/2000/svg";
const svg=document.getElementById("fig");
function mk(tag,attrs,parent){const e=document.createElementNS(NS,tag);for(const k in attrs)e.setAttribute(k,attrs[k]);parent.appendChild(e);return e;}
function fmt(v){return v<0?"\u2212"+Math.abs(v):String(v);}
const R=5.3;

layout.forEach((p,i)=>{
  const sx=v=>p.x4+(v-4)*p.xu;
  const sy=v=>p.ypx-(v-p.yv)*p.yu;
  const g=mk("g",{},svg);
  
  

  const letter=mk("text",{x:p.lx,y:p.ly,"font-size":42,fill:"#111"},g);
  letter.textContent=p.L;
  
  

  const title=mk("text",{x:p.tx,y:p.ty,"font-size":29,"text-anchor":"middle",fill:"#222"},g);
  title.textContent="TMC8 vs. "+genes[i];
  
  

  yTickSets[i].forEach(t=>{
    const y=sy(t);
    mk("line",{x1:p.ax,y1:y,x2:p.right,y2:y,stroke:"#ececec","stroke-width":1,"stroke-dasharray":"2 5"},g);
  });

  const yAxis=mk("line",{x1:p.ax,y1:p.top,x2:p.ax,y2:p.bot,stroke:"#666","stroke-width":2},g);
  
  
  const xAxis=mk("line",{x1:p.ax,y1:p.bot,x2:p.right,y2:p.bot,stroke:p.thick?"#111":"#666","stroke-width":p.thick?5:2},g);
  
  

  xTicks.forEach(t=>{
    const x=sx(t);
    mk("line",{x1:x,y1:p.bot,x2:x,y2:p.bot+6,stroke:"#666","stroke-width":1.6},g);
    const tl=mk("text",{x:x,y:p.bot+39,"font-size":31,"text-anchor":"middle",fill:"#222"},g);
    tl.textContent=fmt(t);
    
    
  });
  yTickSets[i].forEach(t=>{
    const y=sy(t);
    mk("line",{x1:p.ax-6,y1:y,x2:p.ax,y2:y,stroke:"#666","stroke-width":1.6},g);
    const tl=mk("text",{x:p.ax-14,y:y+11,"font-size":31,"text-anchor":"end",fill:"#222"},g);
    tl.textContent=fmt(t);
    
    
  });

  const xt=mk("text",{x:(p.ax+p.right)/2,y:p.bot+79,"font-size":32,"text-anchor":"middle",fill:"#222"},g);
  xt.textContent="TMC8 expression";
  
  
  const yx=p.ax-79;
  const yt=mk("text",{x:yx,y:p.ytitleY,"font-size":32,"text-anchor":"middle",fill:"#222",transform:"rotate(-90 "+yx+" "+p.ytitleY+")"},g);
  yt.textContent=genes[i]+" expression";
  
  

  pts[i].forEach(d=>{
    const c=mk("circle",{cx:sx(d[0]),cy:sy(d[1]),r:R,fill:"#2b86e3",stroke:"#1a5aa5","stroke-width":1},g);
    
    
  });
  opens[i].forEach(d=>{
    const c=mk("circle",{cx:sx(d[0]),cy:sy(d[1]),r:4.5,fill:"#fff",stroke:"#bbb","stroke-width":1.4},g);
    
    
  });
  const f=fits[i];
  const ln=mk("line",{x1:sx(f[0]),y1:sy(f[1]),x2:sx(f[2]),y2:sy(f[3]),stroke:"#a24a40","stroke-width":2.6},g);
  
  
  pinks[i].forEach(d=>{
    const c=mk("circle",{cx:sx(d[0]),cy:sy(d[1]),r:R,fill:"#ee88cc",stroke:"#dd77bb","stroke-width":0.8},g);
    
    
  });
  golds[i].forEach(d=>{
    const c=mk("circle",{cx:sx(d[0]),cy:sy(d[1]),r:R,fill:"#b08a10",stroke:"#806000","stroke-width":0.8},g);
    
    
  });

  const cor=mk("text",{x:p.cx,y:p.cy,"font-size":29,fill:"#e0202a"},g);
  cor.textContent="Cor="+corValues[i];
  
  
  const pv=mk("text",{x:p.cx,y:p.cy+34,"font-size":29,fill:"#e0202a"},g);
  const it=mk("tspan",{"font-style":"italic"},pv); it.textContent="P";
  const rest=mk("tspan",{},pv); rest.textContent="<0.05";
  
  
});
</script>
</body></html>
